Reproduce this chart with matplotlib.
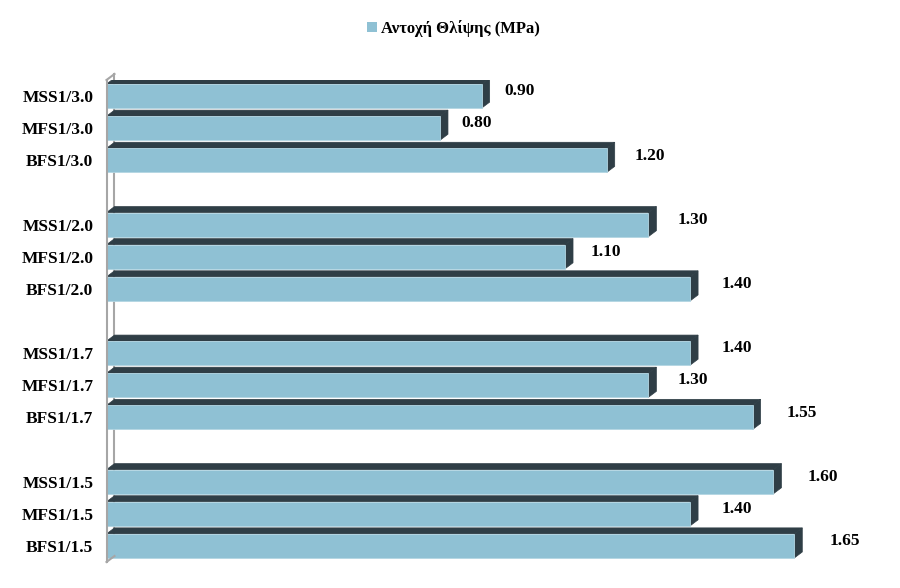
import matplotlib.pyplot as plt
from matplotlib.patches import Polygon, Patch

plt.rcParams['font.family'] = ['Liberation Serif', 'DejaVu Serif']

# data, top to bottom
groups = ["1/3.0", "1/2.0", "1/1.7", "1/1.5"]
series = ["MSS", "MFS", "BFS"]
values = [
    [0.90, 0.80, 1.20],
    [1.30, 1.10, 1.40],
    [1.40, 1.30, 1.55],
    [1.60, 1.40, 1.65],
]
legend_label = "Αντοχή Θλίψης (MPa)"

front = "#8fc1d4"
dark = "#2f3e46"
wall = "#a6a6a6"

fig = plt.figure(figsize=(9, 5.88), dpi=100)
ax = fig.add_axes([106.5 / 900, 1 - 562 / 588, 792 / 900, 482 / 588])
ax.set_xlim(0, 1.9)
ax.set_ylim(14.5, -0.5)

# 3D depth offsets in data units (~8 px right, ~6 px up)
dx = 8 / 417
dy = 6 / 32.1
h = 0.75

pos, labels, vals = [], [], []
for g, grp in enumerate(groups):
    for k, s in enumerate(series):
        pos.append(4 * g + k)
        labels.append(s + grp)
        vals.append(values[g][k])

# back wall line (behind bars)
ax.plot([dx, dx], [-0.5 - dy, 14.5 - dy], color=wall, lw=1.5, zorder=1,
        clip_on=False)

ax.barh(pos, vals, height=h, color=front, edgecolor="#b3d6e3", linewidth=0.6,
        zorder=3)
for y, v in zip(pos, vals):
    top = y - h / 2
    bot = y + h / 2
    ax.add_patch(Polygon([(0, top), (dx, top - dy), (v + dx, top - dy), (v, top)],
                         closed=True, facecolor=dark, edgecolor=dark, lw=0.5, zorder=2))
    ax.add_patch(Polygon([(v, top), (v + dx, top - dy), (v + dx, bot - dy), (v, bot)],
                         closed=True, facecolor=dark, edgecolor=dark, lw=0.5, zorder=2))
    ax.text(v * 1.04 + 0.055, y - 0.15, f"{v:.2f}", ha="center", va="center",
            fontsize=12.5, fontweight="bold", zorder=4)

# front wall line and diagonals
ax.plot([0, 0], [-0.5, 14.5], color=wall, lw=1.5, zorder=4, clip_on=False)
ax.plot([0, dx], [-0.5, -0.5 - dy], color=wall, lw=1.5, zorder=4, clip_on=False)
ax.plot([0, dx], [14.5, 14.5 - dy], color=wall, lw=1.5, zorder=4, clip_on=False)

ax.set_yticks(pos)
ax.set_yticklabels(labels, fontsize=12.5, fontweight="bold")
ax.tick_params(axis="y", length=0, pad=9.5)
ax.set_xticks([])
for sp in ax.spines.values():
    sp.set_visible(False)

fig.legend(handles=[Patch(facecolor=front, label=legend_label)], loc="center",
           bbox_to_anchor=(0.504, 0.952), frameon=False, handlelength=0.6,
           handleheight=0.6, handletextpad=0.2, prop={"size": 12, "weight": "bold"})

fig.savefig("out.png", dpi=100)
